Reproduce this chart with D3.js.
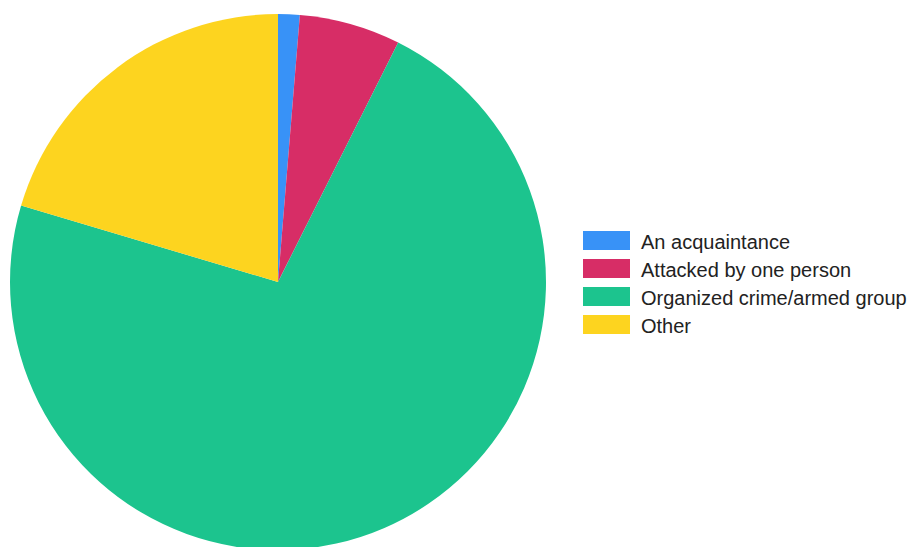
<!DOCTYPE html>
<html><head><meta charset="utf-8">
<script src="https://cdn.jsdelivr.net/npm/d3@7"></script>
<style>body{margin:0;background:#fff;}svg{display:block;}</style>
</head><body>
<svg id="chart" width="910" height="547"></svg>
<script>
const categories = ["An acquaintance", "Attacked by one person", "Organized crime/armed group", "Other"];
const values = [1.3, 6.1, 72.2, 20.4];
const colors = ["#3892f7", "#d72d66", "#1cc48e", "#fdd41f"];

const svg = d3.select("#chart");
const cx = 278, cy = 282, r = 268;
const pie = d3.pie().sort(null).value(d => d.v);
const arcs = pie(categories.map((c, i) => ({c, v: values[i]})));
const arc = d3.arc().innerRadius(0).outerRadius(r);
svg.append("g").attr("transform", `translate(${cx},${cy})`)
  .selectAll("path").data(arcs).join("path")
  .attr("d", arc).attr("fill", (d, i) => colors[i]);

const lg = svg.append("g").attr("transform", "translate(583,231)");
const row = lg.selectAll("g").data(categories).join("g")
  .attr("transform", (d, i) => `translate(0,${i * 28})`);
row.append("rect").attr("width", 47).attr("height", 19).attr("fill", (d, i) => colors[i]);
row.append("text").attr("x", 58).attr("y", 18).text(d => d)
  .attr("font-family", "Liberation Sans, Arial, sans-serif").attr("font-size", 20).attr("fill", "#222");
</script>
</body></html>
